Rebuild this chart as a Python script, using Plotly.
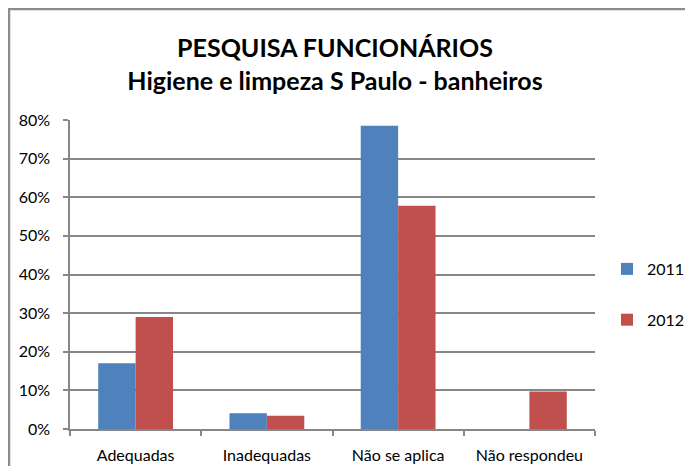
import plotly.graph_objects as go

categories = ["Adequadas", "Inadequadas", "Não se aplica", "Não respondeu"]
values_2011 = [0.17, 0.041, 0.785, 0.0]
values_2012 = [0.29, 0.034, 0.578, 0.097]
series_names = ["2011", "2012"]
y_ticks = [0, 0.1, 0.2, 0.3, 0.4, 0.5, 0.6, 0.7, 0.8]
y_tick_labels = ["0%", "10%", "20%", "30%", "40%", "50%", "60%", "70%", "80%"]

OFF = 8  # default page body margin
W, H = 693 - 2 * OFF, 474 - 2 * OFF
ml, mt = 70 - OFF, 120 - OFF
mr = W - (595 - OFF)
mb = H - (429 - OFF)
pw = W - ml - mr
ph = H - mt - mb

FONT = "Lato, Carlito, Calibri, sans-serif"
GRID = "#878787"

fig = go.Figure()
fig.add_trace(go.Bar(x=categories, y=values_2011, name=series_names[0],
                     marker=dict(color="#4F81BD", line=dict(width=0)),
                     legendgroup="a"))
fig.add_trace(go.Bar(x=categories, y=values_2012, name=series_names[1],
                     marker=dict(color="#C0504D", line=dict(width=0)),
                     legendgroup="b"))

fig.update_layout(
    width=W, height=H,
    margin=dict(l=ml, r=mr, t=mt, b=mb, pad=0, autoexpand=False),
    paper_bgcolor="white", plot_bgcolor="white",
    barmode="group", bargap=0.43, bargroupgap=0,
    font=dict(family=FONT, size=16, color="black"),
    title=dict(text="<b>PESQUISA FUNCIONÁRIOS<br>Higiene e limpeza S Paulo - banheiros</b>",
               x=(335 - OFF) / W, xanchor="center", y=1 - (57 - OFF) / H, yanchor="middle",
               font=dict(family=FONT, size=25, color="black")),
    xaxis=dict(showline=True, linecolor=GRID, linewidth=1.5, ticks="outside",
               tickson="boundaries", ticklen=5, tickcolor=GRID, tickwidth=1.5,
               showgrid=False, tickfont=dict(size=16), ticklabelstandoff=11),
    yaxis=dict(range=[0, 0.8], tickvals=y_ticks, ticktext=y_tick_labels,
               showline=True, linecolor=GRID, linewidth=1.5, ticks="outside",
               ticklen=5, tickcolor=GRID, tickwidth=1.5,
               showgrid=True, gridcolor=GRID, gridwidth=1.5, zeroline=False,
               tickfont=dict(size=16), ticklabelstandoff=10),
    legend=dict(x=(607 - OFF - ml) / pw, y=1 - (252 - OFF - mt) / ph,
                xanchor="left", yanchor="top",
                traceorder="grouped", tracegroupgap=27, itemwidth=30,
                font=dict(size=16), bgcolor="rgba(0,0,0,0)"),
    shapes=[dict(type="rect", xref="paper", yref="paper",
                 x0=(1 - ml) / pw, x1=(W + 20 - ml) / pw,
                 y0=-(H + 20 - mt - ph) / ph, y1=1 + (mt - 1) / ph,
                 line=dict(color="#8C8C8C", width=2.5), layer="below")],
)

fig.write_html("out.html")
